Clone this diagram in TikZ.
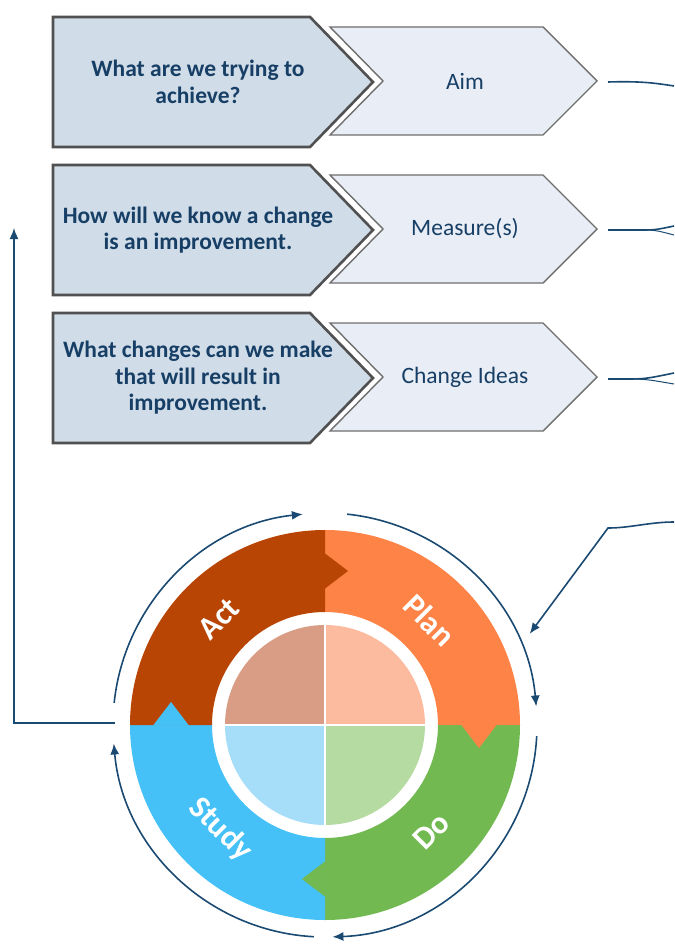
\documentclass[tikz,border=0pt]{standalone}
\usepackage{fontspec}
\setmainfont{Carlito}
\usepackage{tikz}
\usetikzlibrary{arrows.meta}
\definecolor{qfill}{HTML}{D0DCE8}
\definecolor{afill}{HTML}{E9EEF6}
\definecolor{qline}{HTML}{505050}
\definecolor{aline}{HTML}{6E6E6E}
\definecolor{inkblue}{HTML}{173F66}
\definecolor{flowblue}{HTML}{1A4A72}
\definecolor{actred}{HTML}{B84504}
\definecolor{planorange}{HTML}{FD8347}
\definecolor{dogreen}{HTML}{72B952}
\definecolor{studyblue}{HTML}{45C1F8}
\definecolor{actlight}{HTML}{D99D85}
\definecolor{planlight}{HTML}{FCBA9F}
\definecolor{dolight}{HTML}{B5DBA3}
\definecolor{studylight}{HTML}{A6DEFA}
% question box: top y, name, text
\newcommand{\qbox}[3]{ \draw[qframe] (53,#1) -- (310,#1) -- (373,#1+65) -- (310,#1+130) -- (53,#1+130) -- cycle;
  \node[qtext] (#2) at (198,#1+65) {#3};}
% answer box: top y, name, text
\newcommand{\abox}[3]{ \draw[aframe] (330,#1) -- (543,#1) -- (597,#1+54) -- (543,#1+108) -- (330,#1+108) -- (383,#1+54) -- cycle;
  \node[atext] (#2) at (465,#1+54) {#3};}

\begin{document}
\begin{tikzpicture}[x=1pt,y=-1pt,
    qframe/.style={fill=qfill, draw=qline, line width=2.6pt, line join=miter},
    aframe/.style={fill=afill, draw=aline, line width=1.4pt},
    qtext/.style={text=inkblue, align=center, font=\bfseries\fontsize{23.5}{26.5}\selectfont},
    atext/.style={text=inkblue, font=\fontsize{23.5}{26.5}\selectfont},
    phase/.style={text=white, inner sep=0pt, font=\bfseries\fontsize{32}{32}\selectfont},
    flow/.style={draw=flowblue, line width=1.6pt},
    flowarrow/.style={flow, -{Latex[length=11pt,width=9pt]}}]
    \useasboundingbox (0,0) rectangle (674,944);
    % row1
    \abox{27}{aim}{Aim}
    \qbox{17}{aimq}{What are we trying to\\achieve?}
    % row2
    \abox{175}{meas}{Measure(s)}
    \qbox{165}{measq}{How will we know a change\\is an improvement.}
    % row3
    \abox{323}{ideas}{Change Ideas}
    \qbox{313}{ideasq}{What changes can we make\\that will result in\\improvement.}
    % lines running off to the right
    \coordinate (aimout) at (608,82);
    \coordinate (aimedge) at (674,86);
    \coordinate (measout) at (608,230);
    \coordinate (measup) at (674,226);
    \coordinate (measdown) at (674,235);
    \coordinate (ideasout) at (608,379);
    \coordinate (ideasup) at (674,373);
    \coordinate (ideasdown) at (674,384);
    \coordinate (cycleedge) at (674,522);
    \coordinate (cycleknee) at (608,528);
    \draw[flow] (aimout) .. controls (640,81) and (655,83) .. (aimedge);
    \draw[flow] (measout) -- (638,230) .. controls (655,230) .. (measup);
    \draw[flow, line width=1pt] (638,230) .. controls (655,230) .. (measdown);
    \draw[flow] (ideasout) -- (622,379) .. controls (645,379) .. (ideasup);
    \draw[flow, line width=1pt] (622,379) .. controls (645,379) .. (ideasdown);
    % PDSA wheel
    \begin{scope}[shift={(325,725)}, y=1pt]
        % outer ring
        \foreach \a/\c in {0/planorange, 270/dogreen, 180/studyblue, 90/actred}
            \fill[\c] (\a:113) arc[start angle=\a, end angle=\a+90, radius=113]
                -- (\a+90:195) arc[start angle=\a+90, end angle=\a, radius=195] -- cycle;
        % each phase pushes into the next one
        \foreach \a/\c in {0/planorange, 270/dogreen, 180/studyblue, 90/actred}
            \fill[\c, rotate=\a] (136,0.6) -- (172,0.6) -- (154,-23) -- cycle;
        % inner disc
        \foreach \a/\c in {0/planlight, 270/dolight, 180/studylight, 90/actlight}
            \fill[\c] (0,0) -- (\a:100) arc[start angle=\a, end angle=\a+90, radius=100] -- cycle;
        \draw[white, line width=1.5pt] (-100,0) -- (100,0) (0,-100) -- (0,100);
        % labels
        \node[phase, rotate=-45] (plan) at (45:148) {Plan};
        \node[phase, rotate=45] (do) at (315:150) {Do};
        \node[phase, rotate=-45] (study) at (225:148) {Study};
        \node[phase, rotate=45] (act) at (135:150) {Act};
        % cycle arrows
        \foreach \s/\e in {174/96, 84/5, -3/-88, -93/-175}
            \draw[flowarrow] (\s:212) arc[start angle=\s, end angle=\e, radius=212];
        \coordinate (loopout) at (-210,2);
        \coordinate (planin) at (24:224);
    \end{scope}
    \coordinate (loopin) at (14,228);
    \draw[flowarrow] (loopout) -| (loopin);
    \draw[flowarrow] (cycleedge) .. controls (650,522) and (630,528) .. (cycleknee) -- (planin);
\end{tikzpicture}
\end{document}
